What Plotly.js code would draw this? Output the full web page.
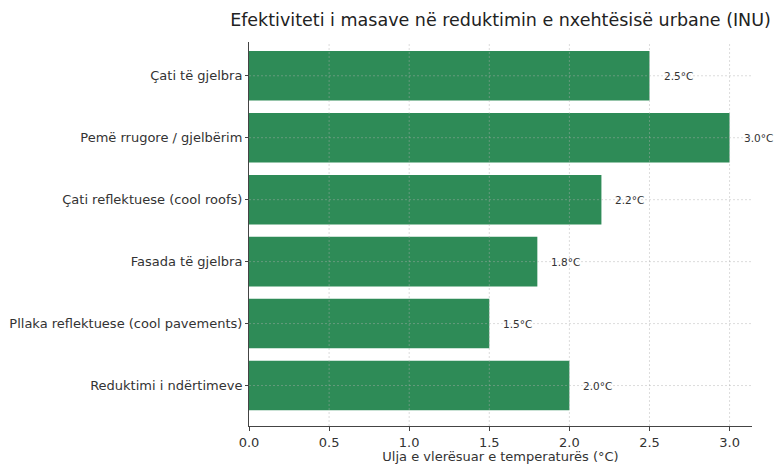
<!DOCTYPE html>
<html>
<head>
<meta charset="utf-8">
<script src="https://cdn.plot.ly/plotly-3.0.1.min.js"></script>
<style>html,body{margin:0;padding:0;background:#fff;}#chart{width:776px;height:464px;}</style>
</head>
<body>
<div id="chart"></div>
<script>
const categories = [
  "Çati të gjelbra",
  "Pemë rrugore / gjelbërim",
  "Çati reflektuese (cool roofs)",
  "Fasada të gjelbra",
  "Pllaka reflektuese (cool pavements)",
  "Reduktimi i ndërtimeve"
];
const values = [2.5, 3.0, 2.2, 1.8, 1.5, 2.0];
const labels = values.map(v => v.toFixed(1) + "°C");
const xTicks = [0, 0.5, 1.0, 1.5, 2.0, 2.5, 3.0];
const xTickText = xTicks.map(v => v.toFixed(1));

const font = "DejaVu Sans, sans-serif";
const gridColor = "rgba(175,175,175,0.55)";

const shapes = [];
xTicks.forEach(t => {
  if (t === 0) return;
  shapes.push({type: "line", xref: "x", yref: "paper", x0: t, x1: t, y0: 0, y1: 1,
    line: {color: gridColor, width: 0.8, dash: "2px,2px"}, layer: "above"});
});
categories.forEach(c => {
  shapes.push({type: "line", xref: "paper", yref: "y", x0: 0, x1: 1, y0: c, y1: c,
    line: {color: gridColor, width: 0.8, dash: "2px,2px"}, layer: "above"});
});

const annotations = values.map((v, i) => ({
  x: v + 0.1, y: categories[i], xref: "x", yref: "y",
  text: labels[i], showarrow: false, xanchor: "left", yanchor: "middle",
  xshift: -3, borderpad: 0,
  font: {family: font, size: 10.5, color: "#333"}
}));

const trace = {
  type: "bar", orientation: "h",
  x: values, y: categories,
  width: 0.8,
  marker: {color: "#2e8b57"},
  hoverinfo: "none"
};

const layout = {
  width: 776, height: 464,
  margin: {l: 249, r: 24, t: 42, b: 38},
  paper_bgcolor: "#fff", plot_bgcolor: "#fff",
  showlegend: false,
  title: {text: "Efektiviteti i masave në reduktimin e nxehtësisë urbane (INU)",
    font: {family: font, size: 17.5, color: "#222"}, x: 0.5, xref: "paper", xanchor: "center",
    yref: "container", y: 0.957, yanchor: "middle"},
  xaxis: {
    range: [0, 3.14], tickvals: xTicks, ticktext: xTickText,
    showgrid: false, zeroline: false,
    showline: true, linecolor: "#444", linewidth: 1,
    ticks: "outside", ticklen: 4, tickcolor: "#444",
    tickfont: {family: font, size: 13, color: "#333"},
    title: {text: "Ulja e vlerësuar e temperaturës (°C)", font: {family: font, size: 13, color: "#333"}, standoff: 2}
  },
  yaxis: {
    type: "category", categoryarray: categories, categoryorder: "array",
    range: [5.653, -0.545],
    showgrid: false, zeroline: false,
    showline: true, linecolor: "#444", linewidth: 1,
    ticks: "outside", ticklen: 3, tickcolor: "#444",
    tickfont: {family: font, size: 13, color: "#333"}
  },
  shapes: shapes,
  annotations: annotations
};

Plotly.newPlot("chart", [trace], layout, {staticPlot: true, displayModeBar: false});
</script>
</body>
</html>
